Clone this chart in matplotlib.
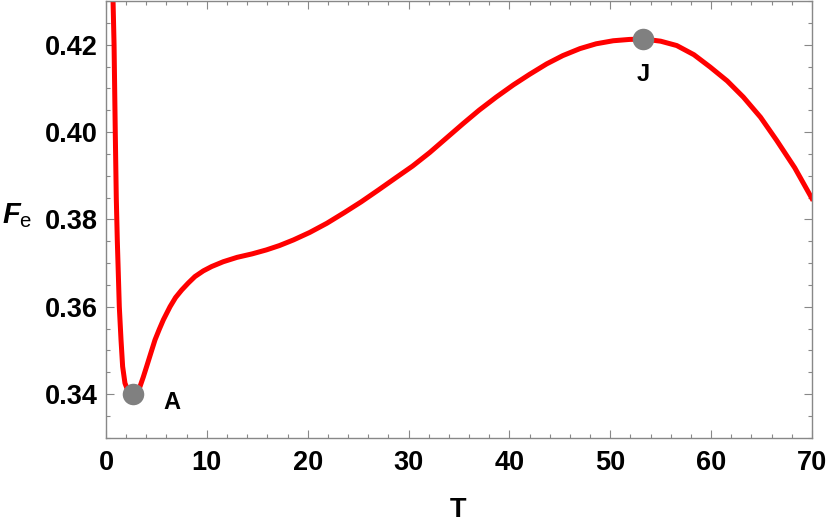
import matplotlib
matplotlib.use("Agg")
import matplotlib.pyplot as plt
from matplotlib.ticker import MultipleLocator

plt.rcParams["font.family"] = ["Liberation Sans", "DejaVu Sans"]
plt.rcParams["mathtext.fontset"] = "custom"
plt.rcParams["mathtext.it"] = "Liberation Sans:italic:bold"
plt.rcParams["mathtext.rm"] = "Liberation Sans"

# curve F_e(T)
T = [0.66, 0.70, 0.80, 0.92, 1.02, 1.12, 1.22, 1.32, 1.49, 1.65, 1.88, 2.20, 2.50,
     2.78, 3.05, 3.37, 3.70, 4.03, 4.45, 4.86, 5.28, 5.69, 6.35, 6.90, 7.50, 8.15,
     8.82, 9.65, 10.48, 11.63, 13.0, 14.5, 15.9, 17.2, 18.6, 20.2, 21.9, 23.6, 25.3,
     27.0, 28.6, 30.4, 32.1, 33.8, 35.4, 37.0, 38.7, 40.4, 42.0, 43.7, 45.3, 47.0,
     48.6, 50.3, 51.9, 53.3, 55.0, 56.6, 58.3, 59.9, 61.6, 63.2, 64.9, 66.5, 68.3,
     70.0]
F = [0.4350, 0.4300, 0.4200, 0.4000, 0.3850, 0.3753, 0.3677, 0.3600, 0.3524, 0.3463,
     0.3425, 0.3406, 0.3399, 0.3398, 0.3403, 0.3417, 0.3439, 0.3463, 0.3494, 0.3524,
     0.3548, 0.3570, 0.3600, 0.3621, 0.3638, 0.3654, 0.3669, 0.3682, 0.3692, 0.3703,
     0.3713, 0.3721, 0.3730, 0.3740, 0.3753, 0.3770, 0.3791, 0.3815, 0.3840, 0.3867,
     0.3893, 0.3922, 0.3953, 0.3987, 0.4019, 0.4050, 0.4080, 0.4108, 0.4132, 0.4156,
     0.4175, 0.4191, 0.4202, 0.4209, 0.4212, 0.4213, 0.4208, 0.4198, 0.4177, 0.4149,
     0.4117, 0.4080, 0.4034, 0.3981, 0.3918, 0.3848]

# marked points
pt_names = ["A", "J"]
pt_T = [2.7, 53.3]
pt_F = [0.3400, 0.4213]

fig = plt.figure(figsize=(8.3, 5.31), dpi=100)
ax = fig.add_axes([0.1277, 0.1757, 0.8505, 0.8224])

ax.plot(T, F, color="#ff0000", lw=3.6, solid_joinstyle="round", zorder=2)
ax.plot(pt_T, pt_F, "o", color="#808080", ms=15.5, mec="none", zorder=3)
ax.text(pt_T[0] + 3.8, pt_F[0] - 0.0019, pt_names[0], fontsize=17, fontweight="bold",
        ha="center", va="center")
ax.text(pt_T[1], pt_F[1] - 0.0082, pt_names[1], fontsize=17, fontweight="bold",
        ha="center", va="center")

ax.set_xlim(0, 70)
ax.set_ylim(0.33, 0.43)
ax.xaxis.set_major_locator(MultipleLocator(10))
ax.xaxis.set_minor_locator(MultipleLocator(2))
ax.yaxis.set_major_locator(MultipleLocator(0.02))
ax.yaxis.set_minor_locator(MultipleLocator(0.005))
ax.yaxis.set_major_formatter(lambda v, p: f"{v:.2f}")

for s in ax.spines.values():
    s.set_color("#888888")
    s.set_linewidth(1.0)
ax.tick_params(which="both", direction="in", top=True, right=True, color="#888888",
               width=0.8, labelsize=19.5)
ax.tick_params(axis="y", pad=6)
ax.tick_params(axis="x", pad=9)
ax.tick_params(which="major", length=6)
ax.tick_params(which="minor", length=3)
for lab in ax.get_xticklabels() + ax.get_yticklabels():
    lab.set_fontweight("bold")

fig.text(458 / 830, 1 - 510 / 531, "T", fontsize=19.5, fontweight="bold",
         ha="center", va="center")
fig.text(17 / 830, 1 - 216 / 531, r"$F_{\mathrm{e}}$", fontsize=21,
         ha="center", va="center")

fig.savefig("out.png", dpi=100)
